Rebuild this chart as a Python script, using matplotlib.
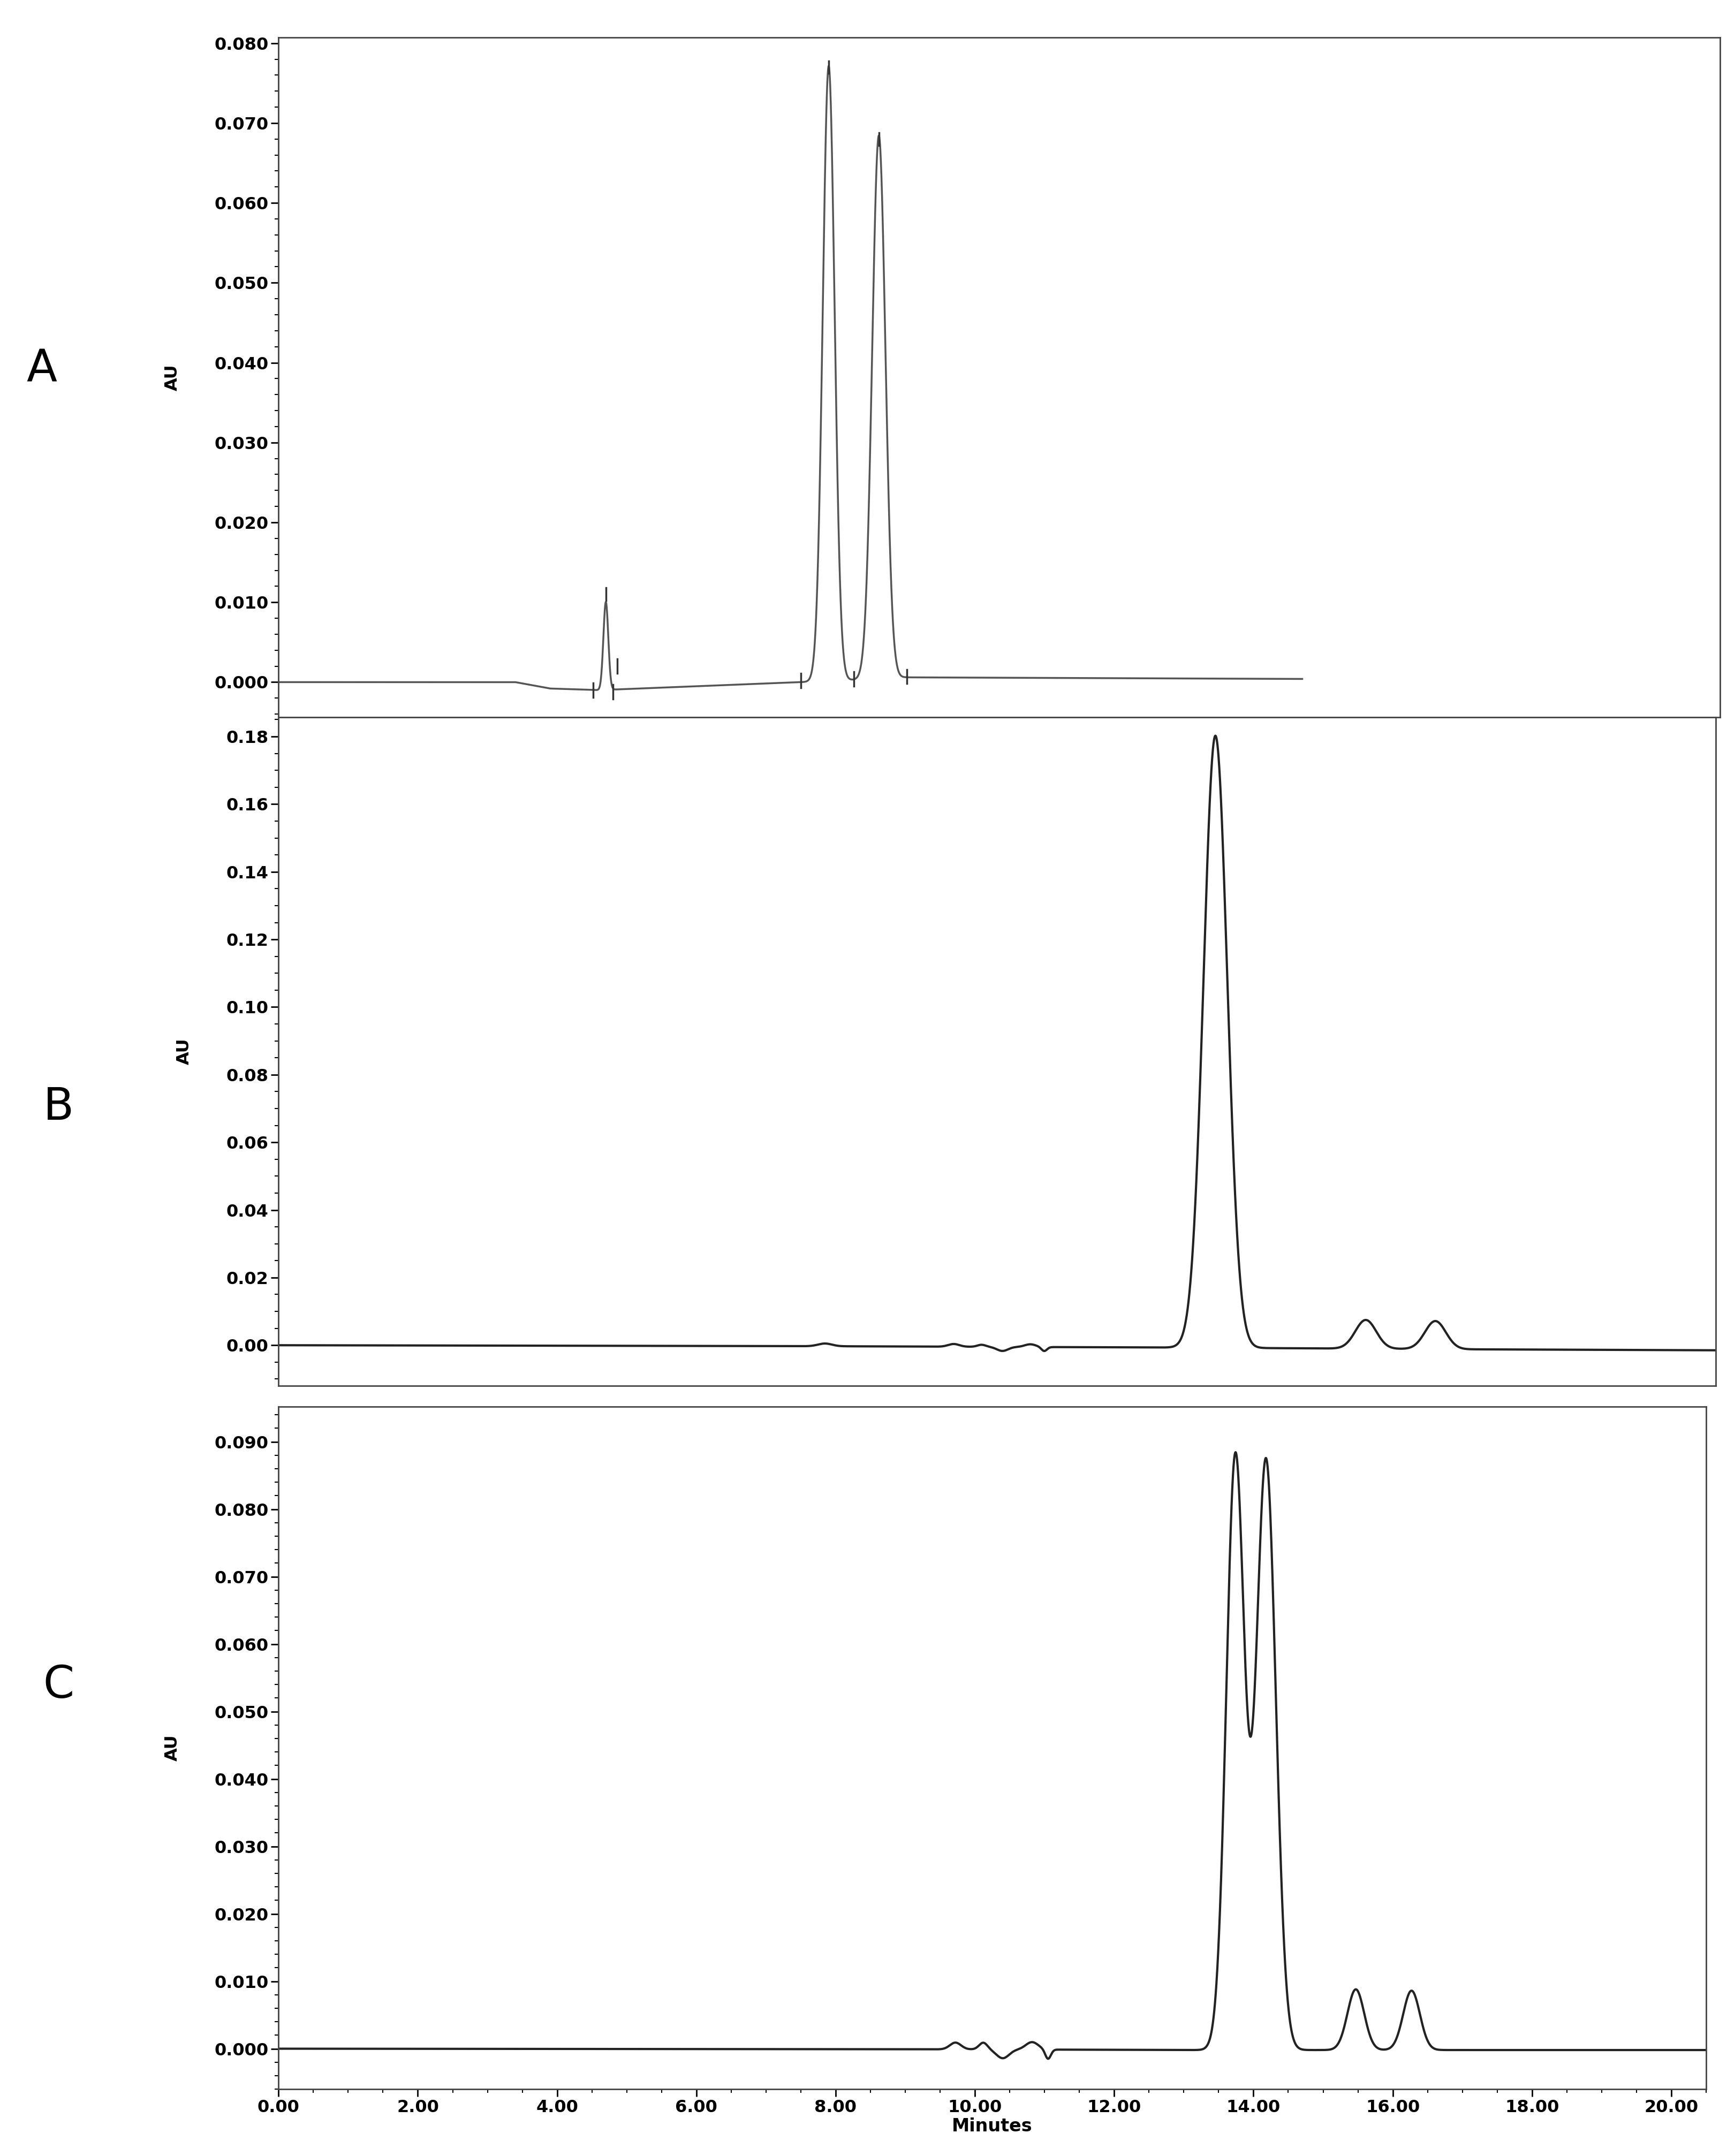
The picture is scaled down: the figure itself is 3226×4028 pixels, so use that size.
import numpy as np
import matplotlib.pyplot as plt

# peak tables: centre (min), height (AU), sigma (min)
a_centres = [4.70, 7.90, 8.62]
a_heights = [0.0110, 0.0770, 0.0680]
a_sigmas = [0.035, 0.085, 0.095]
a_base_t = [0.0, 3.4, 3.9, 4.6, 7.5, 8.3, 9.0, 14.7]
a_base_y = [0.0, 0.0, -0.0008, -0.0010, 0.0000, 0.0003, 0.0006, 0.0004]
a_marks_t = [4.52, 4.80, 4.86, 7.50, 8.26, 9.02]
a_marks_y = [-0.0010, -0.0012, 0.0020, 0.0002, 0.0004, 0.0007]

b_centres = [7.85, 9.70, 10.10, 10.40, 10.80, 11.00, 13.46, 15.62, 16.62]
b_heights = [0.0008, 0.0008, 0.0006, -0.0012, 0.0008, -0.0012, 0.181, 0.0085, 0.0083]
b_sigmas = [0.10, 0.08, 0.06, 0.08, 0.08, 0.04, 0.17, 0.15, 0.15]
b_base_t = [0.0, 8.0, 13.0, 17.0, 20.7]
b_base_y = [0.0, -0.0003, -0.0007, -0.0012, -0.0015]

c_centres = [9.72, 10.12, 10.40, 10.82, 11.05, 13.74, 14.18, 15.47, 16.27]
c_heights = [0.0010, 0.0010, -0.0013, 0.0011, -0.0014, 0.0880, 0.0875, 0.0090, 0.0088]
c_sigmas = [0.08, 0.06, 0.09, 0.09, 0.04, 0.13, 0.14, 0.12, 0.12]
c_base_t = [0.0, 10.0, 13.0, 20.5]
c_base_y = [0.0, -0.0001, -0.0002, -0.0002]

a_yticks = [0.000, 0.010, 0.020, 0.030, 0.040, 0.050, 0.060, 0.070, 0.080]
b_yticks = [0.00, 0.02, 0.04, 0.06, 0.08, 0.10, 0.12, 0.14, 0.16, 0.18]
c_yticks = [0.000, 0.010, 0.020, 0.030, 0.040, 0.050, 0.060, 0.070, 0.080, 0.090]
x_ticks = [0, 2, 4, 6, 8, 10, 12, 14, 16, 18, 20]


def trace(t, centres, heights, sigmas, bt, by):
    y = np.interp(t, bt, by)
    for c, h, s in zip(centres, heights, sigmas):
        y = y + h * np.exp(-0.5 * ((t - c) / s) ** 2)
    return y


fig = plt.figure(figsize=(32.26, 40.28), dpi=100)
W, H = 1240.0, 1548.0


def box(l, r, top, bot):
    return [l / W, 1 - bot / H, (r - l) / W, (bot - top) / H]


axA = fig.add_axes(box(200, 1235, 27, 515))
axB = fig.add_axes(box(200, 1232, 515, 995))
axC = fig.add_axes(box(200, 1225, 1010, 1500))

tA = np.linspace(0, 14.7, 6000)
axA.plot(tA, trace(tA, a_centres, a_heights, a_sigmas, a_base_t, a_base_y), color='#555555', lw=2.5)
for mt, my in zip(a_marks_t, a_marks_y):
    axA.plot([mt, mt], [my - 0.0009, my + 0.0009], color='#333333', lw=2.5)
# peak apex ticks
for c, h in zip(a_centres, a_heights):
    axA.plot([c, c], [h - 0.0008, h + 0.0008], color='#333333', lw=2.5)
axA.set_xlim(0, 20.7)
axA.set_ylim(-0.0044, 0.0807)
axA.set_yticks(a_yticks)
axA.set_yticklabels(['%.3f' % v for v in a_yticks])

tB = np.linspace(0, 20.7, 8000)
axB.plot(tB, trace(tB, b_centres, b_heights, b_sigmas, b_base_t, b_base_y), color='#222222', lw=3)
axB.set_xlim(0, 20.65)
axB.set_ylim(-0.012, 0.1857)
axB.set_yticks(b_yticks)
axB.set_yticklabels(['%.2f' % v for v in b_yticks])

tC = np.linspace(0, 20.5, 8000)
axC.plot(tC, trace(tC, c_centres, c_heights, c_sigmas, c_base_t, c_base_y), color='#222222', lw=3)
axC.set_xlim(0, 20.5)
axC.set_ylim(-0.006, 0.0952)
axC.set_yticks(c_yticks)
axC.set_yticklabels(['%.3f' % v for v in c_yticks])
axC.set_xticks(x_ticks)
axC.set_xticklabels(['%.2f' % v for v in x_ticks])
axC.set_xlabel('Minutes', fontsize=24, fontweight='bold', labelpad=2)

for ax in (axA, axB, axC):
    ax.minorticks_on()
    ax.tick_params(which='major', length=10, width=2, labelsize=23)
    ax.tick_params(which='minor', length=5, width=1.5)
    for lab in ax.get_yticklabels() + ax.get_xticklabels():
        lab.set_fontweight('bold')
    for s in ax.spines.values():
        s.set_linewidth(2)
        s.set_color('#444444')
    ax.set_ylabel('AU', fontsize=23, fontweight='bold', labelpad=45)
for ax in (axA, axB):
    ax.tick_params(axis='x', which='both', bottom=False, labelbottom=False)

fig.text(30 / W, 1 - 265 / H, 'A', fontsize=60, va='center', ha='center')
fig.text(42 / W, 1 - 795 / H, 'B', fontsize=60, va='center', ha='center')
fig.text(42 / W, 1 - 1210 / H, 'C', fontsize=60, va='center', ha='center')

fig.savefig('out.png', dpi=100, facecolor='white')
